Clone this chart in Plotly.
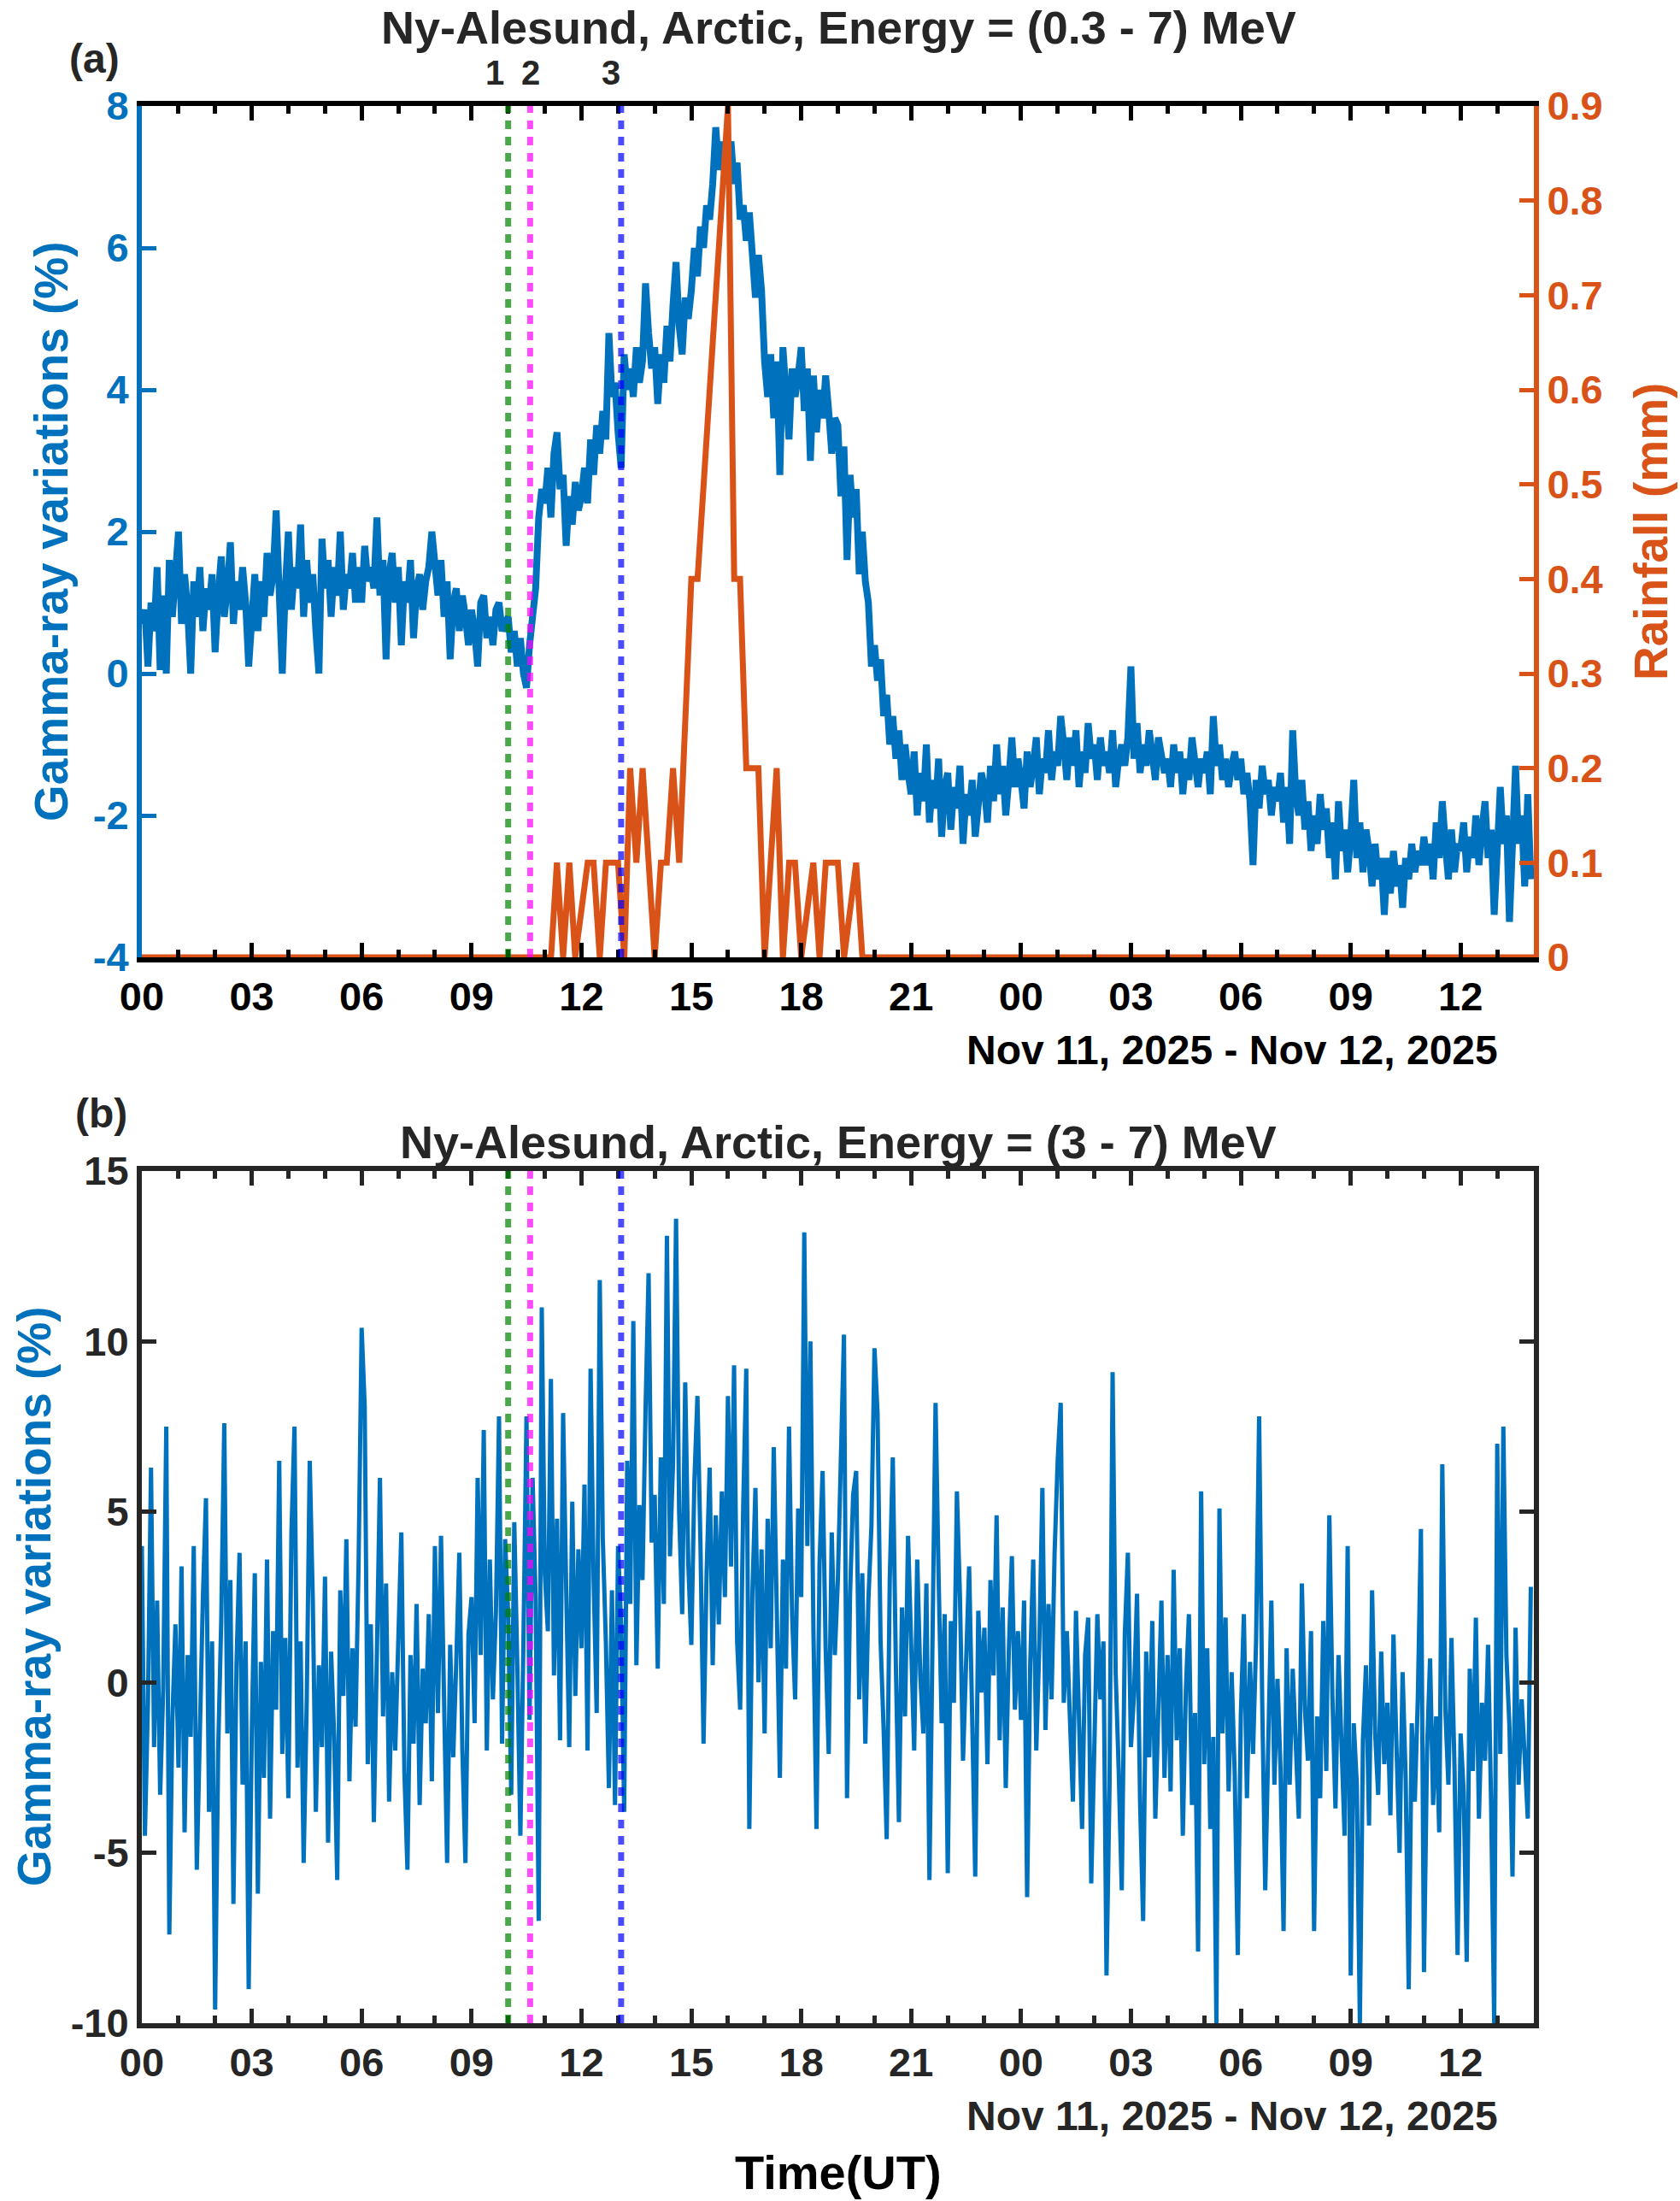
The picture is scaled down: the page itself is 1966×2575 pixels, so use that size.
import plotly.graph_objects as go
from datetime import datetime, timedelta

# ---------------- data ----------------
START = datetime(2025, 11, 11, 0, 0)
STEP_MIN = 5  # sampling step of the gamma-ray series (minutes)

# Panel (a): gamma-ray variations 0.3-7 MeV (%), one row per hour, 5-min samples
gamma_a = [
    0.7, 0.9, 0.1, 1.0, 0.6, 1.5, 0.05, 1.1, 0.0, 1.6, 0.8, 1.3,
    2.0, 0.7, 1.4, 0.9, 0.0, 1.3, 0.8, 1.5, 0.6, 1.2, 0.9, 1.4,
    0.3, 1.1, 1.65, 0.8, 1.2, 1.85, 0.7, 1.3, 0.9, 1.5, 1.0, 0.1,
    1.0, 1.4, 0.6, 1.3, 0.8, 1.7, 1.1, 1.4, 2.3, 1.0, 0.0, 1.2,
    2.0, 0.9, 1.5, 1.2, 2.1, 0.8, 1.6, 1.0, 1.4, 0.6, 0.0, 1.9,
    1.2, 1.6, 0.8, 1.5, 1.1, 2.0, 0.9, 1.4, 1.2, 1.7, 1.0, 1.5,
    1.0, 1.8, 1.3, 1.5, 1.2, 2.2, 1.1, 1.6, 0.2, 1.4, 1.7, 1.0,
    1.5, 0.4, 1.3, 1.0, 1.6, 0.5, 1.2, 1.4, 0.9, 1.3, 1.5, 2.0,
    1.4, 1.1, 1.6, 0.8, 1.3, 0.2, 1.0, 1.2, 0.6, 1.1, 0.8, 0.4,
    0.9, 0.6, 0.1, 1.0, 1.1, 0.5, 0.8, 0.4, 0.9, 1.0, 0.6, 0.7,
    0.8, 0.3, 0.6, 0.1, 0.5, 0.0, -0.2, 0.4, 0.9, 1.2, 2.2, 2.6,
    2.4, 2.9, 2.2, 3.1, 3.4, 2.6, 2.8, 1.8, 2.5, 2.1, 2.7, 2.3,
    2.5, 2.9, 2.4, 3.3, 2.8, 3.5, 3.1, 3.7, 3.3, 4.8, 3.9, 4.1,
    3.4, 2.9, 4.5, 4.0, 4.3, 3.9, 4.6, 4.1, 4.4, 5.5, 4.8, 4.3,
    4.6, 3.8, 4.5, 4.1, 4.9, 4.4, 5.2, 5.8, 4.9, 4.5, 5.3, 5.0,
    5.4, 6.0, 5.6, 6.3, 6.0, 6.6, 6.4, 6.9, 7.7, 7.1, 7.5, 7.0,
    7.3, 7.5, 6.9, 7.2, 6.4, 6.6, 6.1, 6.5, 5.9, 5.3, 5.9, 5.4,
    4.4, 3.9, 4.5, 3.6, 4.4, 2.8, 4.6, 3.8, 3.3, 4.3, 3.9, 4.2,
    4.6, 3.7, 4.3, 3.0, 4.2, 3.4, 4.0, 3.6, 4.2, 3.7, 3.1, 3.6,
    3.5, 2.5, 3.2, 1.6, 2.8, 2.2, 2.6, 1.4, 2.0, 1.3, 1.0, 0.1,
    0.4, -0.1, 0.2, -0.6, -0.3, -1.0, -0.6, -1.2, -0.8, -1.5, -1.0, -1.4,
    -1.7, -1.1, -2.0, -1.4, -1.8, -1.0, -2.1, -1.5, -1.9, -1.2, -2.3, -1.6,
    -1.4, -2.2, -1.6, -1.9, -1.3, -2.4, -1.7, -2.0, -1.5, -2.3, -1.8, -1.4,
    -1.6, -2.1, -1.3, -1.8, -1.0, -1.7, -1.3, -2.0, -1.5, -0.9, -1.6, -1.2,
    -1.5, -1.9, -1.1, -1.6, -1.3, -0.9, -1.7, -1.2, -1.4, -0.8, -1.5, -1.1,
    -1.3, -0.6, -1.0, -1.5, -0.9, -1.3, -0.8, -1.6, -1.1, -1.4, -0.7, -1.2,
    -1.0, -1.5, -0.9, -1.3, -1.1, -1.4, -0.8, -1.6, -1.2, -1.0, -1.3, -0.9,
    0.1, -1.2, -0.7, -1.4, -1.0, -1.3, -0.8, -1.1, -1.5, -0.9, -1.2, -1.4,
    -1.2, -1.6, -1.0, -1.4, -1.1, -1.7, -1.2, -1.5, -0.9, -1.3, -1.6, -1.2,
    -1.4, -1.1, -1.7, -0.6, -1.3, -1.0, -1.5, -1.2, -1.6, -1.3, -1.1, -1.5,
    -1.2, -1.7, -1.4, -1.8, -2.7, -1.5, -1.9, -1.3, -1.7, -1.5, -2.0, -1.6,
    -1.8, -1.4, -2.1, -1.6, -2.4, -0.8, -1.7, -2.0, -1.5, -2.2, -1.8, -2.5,
    -2.0, -2.4, -1.7, -2.2, -1.9, -2.6, -2.1, -2.9, -1.8, -2.5, -2.2, -2.8,
    -2.3, -1.5, -2.6, -2.1, -2.8, -2.2, -2.5, -3.0, -2.4, -2.9, -2.6, -3.4,
    -2.6, -3.1, -2.5, -3.0, -2.7, -3.3, -2.6, -2.9, -2.4, -2.8, -2.5, -2.7,
    -2.3, -2.7, -2.4, -2.9, -2.1, -2.6, -1.8, -2.4, -2.9, -2.2, -2.8, -2.4,
    -2.5, -2.1, -2.8, -2.3, -2.6, -2.0, -2.7, -2.2, -1.8, -2.6, -2.2, -3.4,
    -2.3, -1.6, -2.4, -2.0, -3.5, -2.2, -1.3, -2.4, -2.0, -3.0, -1.7, -2.9,
]

# Panel (b): gamma-ray variations 3-7 MeV (%), one row per hour, 5-min samples
gamma_b = [
    4.0, -4.5, -0.6, 6.3, -1.9, 2.4, -3.3, -0.2, 7.5, -7.4, -1.1, 1.7,
    -2.5, 3.4, -4.4, 0.8, -1.6, 4.0, -5.5, -0.7, 2.5, 5.4, -3.8, 1.2,
    -9.6, -2.0, 1.8, 7.6, -1.5, 3.0, -6.5, 0.5, 3.8, -3.0, 1.2, -9.0,
    -1.5, 3.2, -6.2, 0.6, -2.8, 3.6, -4.0, 1.5, -0.8, 6.5, -2.1, 1.3,
    -3.4, 4.4, 7.5, -2.5, 1.2, -5.3, -0.6, 6.5, 2.4, -3.8, 0.5, -1.9,
    3.1, -4.7, 0.9, -1.6, -5.8, 2.7, -0.4, 4.2, -2.9, 1.0, -1.3, 3.5,
    10.4, 8.1, -2.4, 1.7, -4.1, 0.9, 6.0, -1.0, 2.9, -3.5, 0.3, -2.0,
    1.6, 4.4, -2.6, -5.5, 0.8, -1.8, 2.3, -3.6, 0.4, -1.2, 2.0, -2.9,
    4.0, -0.9, 4.3, -1.5, -5.3, 1.1, -2.2, 0.6, 3.8, -2.0, -5.3, 1.4,
    2.5, -1.2, 6.0, 0.8, 7.4, -2.0, 3.6, -0.5, 2.1, 7.8, -1.8, 4.2,
    2.0, -3.3, 4.7, 0.5, -4.5, 1.2, 7.8, -1.1, 6.0, 2.4, -7.0, 11.0,
    3.2, 1.5, 8.9, 0.2, 4.8, -1.7, 7.9, 2.8, -1.9, 5.3, -0.4, 3.9,
    1.0, 5.8, -2.0, 9.2, 3.0, -0.9, 11.8, 4.2, 1.2, -3.1, 2.7, -3.6,
    4.0, 1.7, -3.8, 6.5, 2.3, 10.6, 0.5, 5.2, 3.0, 8.0, 12.0, 4.1,
    5.5, 0.4, 6.6, 2.3, 13.1, 3.7, 6.4, 13.6, 5.0, 2.0, 8.8, 3.5,
    1.1, 5.9, 8.4, 4.0, -1.8, 3.2, 6.3, 0.5, 4.9, 1.7, 5.6, 2.5,
    8.4, 3.4, 9.3, 1.2, -0.8, 5.2, 9.2, -4.3, 2.6, 5.7, 0.0, 3.9,
    -1.5, 4.8, 1.0, 6.9, 2.2, -2.8, 3.6, 0.4, 7.5, 2.0, -0.5, 5.1,
    2.5, 13.2, 4.0, 10.0, 1.5, -4.3, 3.5, 6.2, 1.0, -2.1, 4.4, 0.8,
    3.0, 7.1, 10.2, -3.4, 2.6, 5.5, 6.2, -0.5, 3.2, -1.8, 2.4, 4.6,
    9.8, 7.9, 1.2, -1.4, -4.6, 3.0, 6.6, 0.5, -4.1, 2.2, -1.0, 4.3,
    1.5, -2.0, 3.6, 0.2, -1.5, 2.9, -5.8, 0.4, 8.2, 3.1, -1.2, 2.0,
    -5.6, 1.8, -0.6, 5.6, 2.5, -2.3, 0.8, 3.4, -1.0, -5.7, 2.1, -0.3,
    1.6, -2.4, 3.0, 0.2, 4.9, -1.7, 2.2, -3.1, 0.9, 3.7, -0.8, 1.5,
    -1.1, 2.4, -6.3, 0.5, 3.6, -2.0, 1.1, 5.7, -1.4, 2.3, -0.5, 3.8,
    6.5, 8.2, -0.6, 1.5, -1.0, -3.5, 2.1, -1.3, -4.3, 0.8, 1.9, -5.9,
    -1.2, 2.0, -0.5, 1.2, -8.6, -3.0, 9.1, 0.3, -2.6, -6.1, 1.4, 3.8,
    -1.9, -0.4, 2.6, -3.5, -7.0, 0.9, -2.2, 1.8, -4.0, -0.6, 2.4, -2.8,
    0.8, -3.2, 3.3, -1.7, 1.0, -4.5, -0.2, 2.0, -3.6, -0.9, -7.9, 5.6,
    -2.4, 1.0, -4.3, -1.6, -10.0, 5.1, -1.5, 1.9, -3.2, 0.3, -2.7, -8.0,
    -1.0, 2.0, -3.4, 0.6, -2.1, 1.2, 7.8, -0.5, -6.1, -1.8, 2.4, -3.0,
    0.1, -2.5, -7.3, 1.0, -3.0, 0.4, -1.6, -4.0, 2.9, -0.8, -2.3, 1.5,
    -7.3, -1.0, -3.4, 1.8, -2.6, 4.9, -0.4, -3.7, 0.8, -2.0, -4.5, 4.0,
    -8.6, -1.2, -3.0, -10.0, -1.7, 0.5, -4.2, 2.7, -1.5, -3.3, 0.9, -2.4,
    -0.6, -3.9, 1.4, -1.9, -5.0, 0.3, -2.8, -9.0, -1.2, -3.5, -0.4, 4.5,
    -8.5, -2.0, 0.7, -3.6, -1.0, -4.4, 6.4, -0.8, -3.0, 1.3, -2.5, -8.0,
    -1.5, -3.2, -8.2, 0.4, -2.6, 1.9, -4.0, -0.6, -2.3, 1.1, -3.6, -10.0,
    7.0, -2.1, 7.5, 0.8, -1.3, -5.7, 1.6, -3.0, -0.5, -2.2, -4.0, 2.8,
]

# Rainfall (mm): hours since Nov 11 00:00 and values at the vertices of the curve
rain_hours = [0, 11.17, 11.33, 11.5, 11.67, 11.83, 12.17, 12.33, 12.5, 12.67, 13.0,
              13.17, 13.33, 13.5, 13.67, 14.0, 14.17, 14.33, 14.5, 14.67, 15.0, 15.17,
              16.0, 16.17, 16.33, 16.5, 16.83, 17.0, 17.33, 17.5, 17.67, 17.83, 18.0,
              18.33, 18.5, 18.67, 19.0, 19.17, 19.5, 19.67, 38.0]
rain_mm = [0, 0, 0.1, 0, 0.1, 0, 0.1, 0.1, 0, 0.1, 0.1,
           0, 0.2, 0.1, 0.2, 0, 0.1, 0.1, 0.2, 0.1, 0.4, 0.4,
           0.9, 0.4, 0.4, 0.2, 0.2, 0, 0.2, 0, 0.1, 0.1, 0,
           0.1, 0, 0.1, 0.1, 0, 0.1, 0, 0]

# Event markers
marker_times = ["2025-11-11 10:00", "2025-11-11 10:36", "2025-11-11 13:05"]
marker_labels = ["1", "2", "3"]

x_range = ["2025-11-11 00:00", "2025-11-12 14:00"]
ya_ticks = [-4, -2, 0, 2, 4, 6, 8]
yb_ticks = [-10, -5, 0, 5, 10, 15]
y2_ticks = [0, 0.1, 0.2, 0.3, 0.4, 0.5, 0.6, 0.7, 0.8, 0.9]

# ---------------- styling ----------------
W, H = 1966, 2575
L, R, T, B = 166, 1795, 124, 2367        # plot area in pixels
BLUE = "#0072BD"
ORANGE = "#D95319"
DARK = "#262626"
FONT = "Arial, Liberation Sans, sans-serif"
MARK_COLORS = ["rgba(0,128,0,0.7)", "rgba(255,0,255,0.7)", "rgba(0,0,255,0.7)"]
LABEL_SHIFT = [-16, 1, -12]

def px(xp, yp):
    return (xp - L) / (R - L), (B - yp) / (B - T)

dom_a = [(B - 1120) / (B - T), 1.0]
dom_b = [0.0, (B - 1370) / (B - T)]

t_a = [START + timedelta(minutes=STEP_MIN * i) for i in range(len(gamma_a))]
t_b = [START + timedelta(minutes=STEP_MIN * i) for i in range(len(gamma_b))]
t_rain = [START + timedelta(hours=h) for h in rain_hours]

fig = go.Figure()
fig.add_trace(go.Scatter(x=t_a, y=gamma_a, mode="lines", line=dict(color=BLUE, width=8),
                         xaxis="x", yaxis="y", showlegend=False))
fig.add_trace(go.Scatter(x=t_rain, y=rain_mm, mode="lines", line=dict(color=ORANGE, width=7),
                         xaxis="x", yaxis="y2", showlegend=False))
fig.add_trace(go.Scatter(x=t_b, y=gamma_b, mode="lines", line=dict(color=BLUE, width=5),
                         xaxis="x2", yaxis="y3", showlegend=False))

tickfont = dict(family=FONT, size=47, weight=700)

def xaxis_common(anchor, color):
    return dict(
        type="date", range=x_range, anchor=anchor, domain=[0, 1],
        tick0="2025-11-11 00:00", dtick=3 * 3600 * 1000, tickformat="%H",
        ticks="inside", ticklen=17, tickwidth=5, tickcolor=color,
        minor=dict(dtick=3600 * 1000, ticks="inside", ticklen=9, tickwidth=5, tickcolor=color),
        showline=True, linewidth=6, linecolor=color, mirror="ticks",
        showgrid=False, zeroline=False,
        tickfont=dict(tickfont, color=color),
    )

def fmt(v):
    return "%g" % v

fig.update_layout(
    width=W, height=H,
    margin=dict(l=L, r=W - R, t=T, b=H - B, pad=0),
    paper_bgcolor="white", plot_bgcolor="white",
    font=dict(family=FONT, color=DARK),
    xaxis=xaxis_common("y", "black"),
    yaxis=dict(domain=dom_a, range=[-4, 8], tickvals=ya_ticks, ticktext=[fmt(v) for v in ya_ticks],
               ticks="inside", ticklen=17, tickwidth=5, tickcolor=BLUE,
               showline=True, linewidth=6, linecolor=BLUE,
               showgrid=False, zeroline=False, tickfont=dict(tickfont, color=BLUE)),
    yaxis2=dict(overlaying="y", side="right", anchor="x", range=[0, 0.9],
                tickvals=y2_ticks, ticktext=[fmt(v) for v in y2_ticks],
                ticks="inside", ticklen=17, tickwidth=5, tickcolor=ORANGE,
                showline=True, linewidth=6, linecolor=ORANGE,
                showgrid=False, zeroline=False, tickfont=dict(tickfont, color=ORANGE)),
    xaxis2=xaxis_common("y3", DARK),
    yaxis3=dict(domain=dom_b, anchor="x2", range=[-10, 15], tickvals=yb_ticks,
                ticktext=[fmt(v) for v in yb_ticks],
                ticks="inside", ticklen=17, tickwidth=5, tickcolor=DARK,
                showline=True, linewidth=6, linecolor=DARK, mirror="ticks",
                showgrid=False, zeroline=False, tickfont=dict(tickfont, color=DARK)),
)

# event marker lines in both panels
for t, c in zip(marker_times, MARK_COLORS):
    for xr, yr in (("x", "y domain"), ("x2", "y3 domain")):
        fig.add_shape(type="line", xref=xr, yref=yr, x0=t, x1=t, y0=0, y1=1,
                      line=dict(color=c, width=7, dash="10px,9px"), layer="above")

ann = []
def add_text(text, xp, yp, size, color=DARK, xanchor="center", angle=0, xshift=0):
    x, y = px(xp, yp)
    ann.append(dict(text=text, x=x, y=y, xref="paper", yref="paper", showarrow=False,
                    xanchor=xanchor, yanchor="middle", textangle=angle, xshift=xshift,
                    font=dict(family=FONT, size=size, color=color, weight=700)))

add_text("Ny-Alesund, Arctic, Energy = (0.3 - 7) MeV", 981, 32, 54)
add_text("(a)", 110, 69, 48)
add_text("Ny-Alesund, Arctic, Energy = (3 - 7) MeV", 981, 1336, 54)
add_text("(b)", 118, 1302, 48)
add_text("Nov 11, 2025 - Nov 12, 2025", 1755, 1228, 48, color="black", xanchor="right")
add_text("Nov 11, 2025 - Nov 12, 2025", 1755, 2475, 48, color=DARK, xanchor="right")
add_text("Time(UT)", 981, 2541, 56, color="black")
add_text("Gamma-ray variations (%)", 60, 622, 55, color=BLUE, angle=-90)
add_text("Gamma-ray variations (%)", 40, 1868, 55, color=BLUE, angle=-90)
add_text("Rainfall (mm)", 1932, 622, 55, color=ORANGE, angle=-90)

for t, lab, sh in zip(marker_times, marker_labels, LABEL_SHIFT):
    _, y = px(0, 85)
    ann.append(dict(text=lab, x=t, y=y, xref="x", yref="paper", showarrow=False,
                    xanchor="center", yanchor="middle", xshift=sh,
                    font=dict(family=FONT, size=40, color=DARK, weight=700)))

fig.update_layout(annotations=ann)
fig.write_html("out.html")
